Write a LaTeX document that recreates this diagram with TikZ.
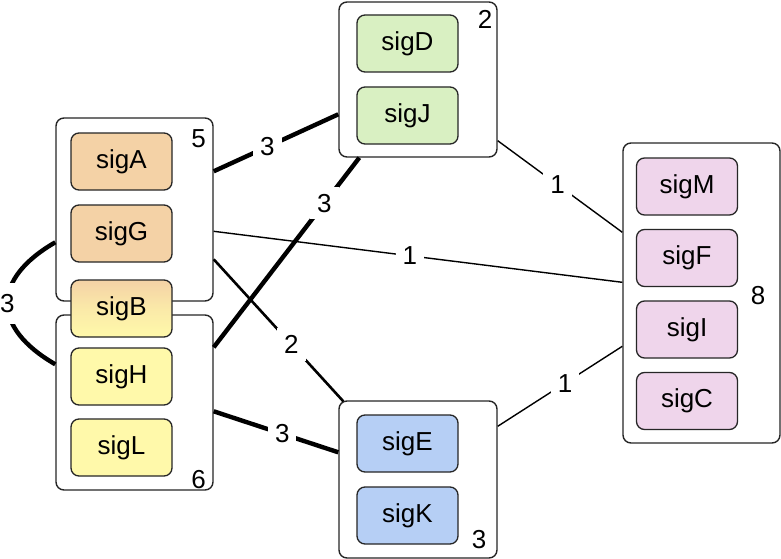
\documentclass[tikz,border=0pt]{standalone}
\usepackage{fontspec}
\setmainfont{Liberation Sans}
\usetikzlibrary{positioning}

\definecolor{sigorange}{HTML}{F4D2A6}
\definecolor{sigyellow}{HTML}{FFF9AA}
\definecolor{siggreen}{HTML}{D9F0C2}
\definecolor{sigblue}{HTML}{B6CFF5}
\definecolor{sigpink}{HTML}{EFD5EB}

\begin{document}
\begin{tikzpicture}[x=1pt,y=-1pt,node distance=72pt,on grid,font=\fontsize{26}{30}\selectfont,
	grp/.style={draw=black!85,fill=white,rounded corners=8pt,line width=1.4pt,minimum width=157pt},
	sig/.style={draw=black!85,rounded corners=8pt,line width=1.3pt,minimum width=101pt,minimum height=57pt},
	heavy/.style={line width=4.4pt},
	medium/.style={line width=2.6pt},
	light/.style={line width=1.4pt},
	wt/.style={fill=white,inner sep=7pt}]
	\useasboundingbox (0,0) rectangle (781,559);

	\node[grp,minimum height=183pt] (g_5) at (134.5,209.5) {};
	\node[grp,minimum height=175pt] (g_6) at (134.5,402.5) {};
	\node[grp,minimum height=155pt,minimum width=158pt] (g_2) at (418,79.5) {};
	\node[grp,minimum height=157pt,minimum width=158pt] (g_3) at (418,479.5) {};
	\node[grp,minimum height=300pt] (g_8) at (701.5,293) {};

	\node (n_5) at (198.5,138.5) {5};
	\node (n_6) at (198.5,480) {6};
	\node (n_2) at (485,19) {2};
	\node (n_3) at (479,540) {3};
	\node (n_8) at (758,296) {8};

	\node[sig,fill=sigorange] (sigA) at (121.5,161.5) {sigA};
	\node[sig,fill=sigorange] (sigG) [below=of sigA] {sigG};
	\node[sig,top color=sigorange,bottom color=sigyellow,middle color=sigyellow!60!sigorange] (sigB) at (121.5,308.5) {sigB};
	\node[sig,fill=sigyellow] (sigH) [below=68pt of sigB] {sigH};
	\node[sig,fill=sigyellow] (sigL) [below=71pt of sigH] {sigL};

	\node[sig,fill=siggreen] (sigD) at (407.5,43.5) {sigD};
	\node[sig,fill=siggreen] (sigJ) [below=of sigD] {sigJ};

	\node[sig,fill=sigblue] (sigE) at (407.5,443.5) {sigE};
	\node[sig,fill=sigblue] (sigK) [below=of sigE] {sigK};

	\node[sig,fill=sigpink] (sigM) at (687,186.5) {sigM};
	\node[sig,fill=sigpink] (sigF) [below=71.5pt of sigM] {sigF};
	\node[sig,fill=sigpink] (sigI) [below=71.5pt of sigF] {sigI};
	\node[sig,fill=sigpink] (sigC) [below=71.5pt of sigI] {sigC};

	\path ([yshift=-54pt]g_5.north east) edge[heavy] node[wt,pos=.43] {3} ([yshift=-113pt]g_2.north west);
	\path ([yshift=-33pt]g_6.north east) edge[heavy] node[wt,pos=.76] {3} ([xshift=21pt]g_2.south west);
	\path ([yshift=-114pt]g_5.north east) edge[light] node[wt,pos=.48] {1} ([yshift=-140pt]g_8.north west);
	\path ([yshift=-142pt]g_5.north east) edge[medium] node[wt,pos=.6] {2} ([xshift=5pt,yshift=-1pt]g_3.north west);
	\path ([yshift=-97pt]g_6.north east) edge[heavy] node[wt,pos=.55] {3} ([yshift=-52pt]g_3.north west);
	\path ([yshift=17pt]g_2.south east) edge[light] node[wt,pos=.48] {1} ([yshift=-90pt]g_8.north west);
	\path ([yshift=-26pt]g_3.north east) edge[light] node[wt,pos=.54] {1} ([yshift=-204pt]g_8.north west);
	\path ([yshift=-125pt]g_5.north west) edge[heavy,out=210,in=150,looseness=1.55] node[wt,inner ysep=11pt] {3} ([yshift=-50pt]g_6.north west);
\end{tikzpicture}
\end{document}
